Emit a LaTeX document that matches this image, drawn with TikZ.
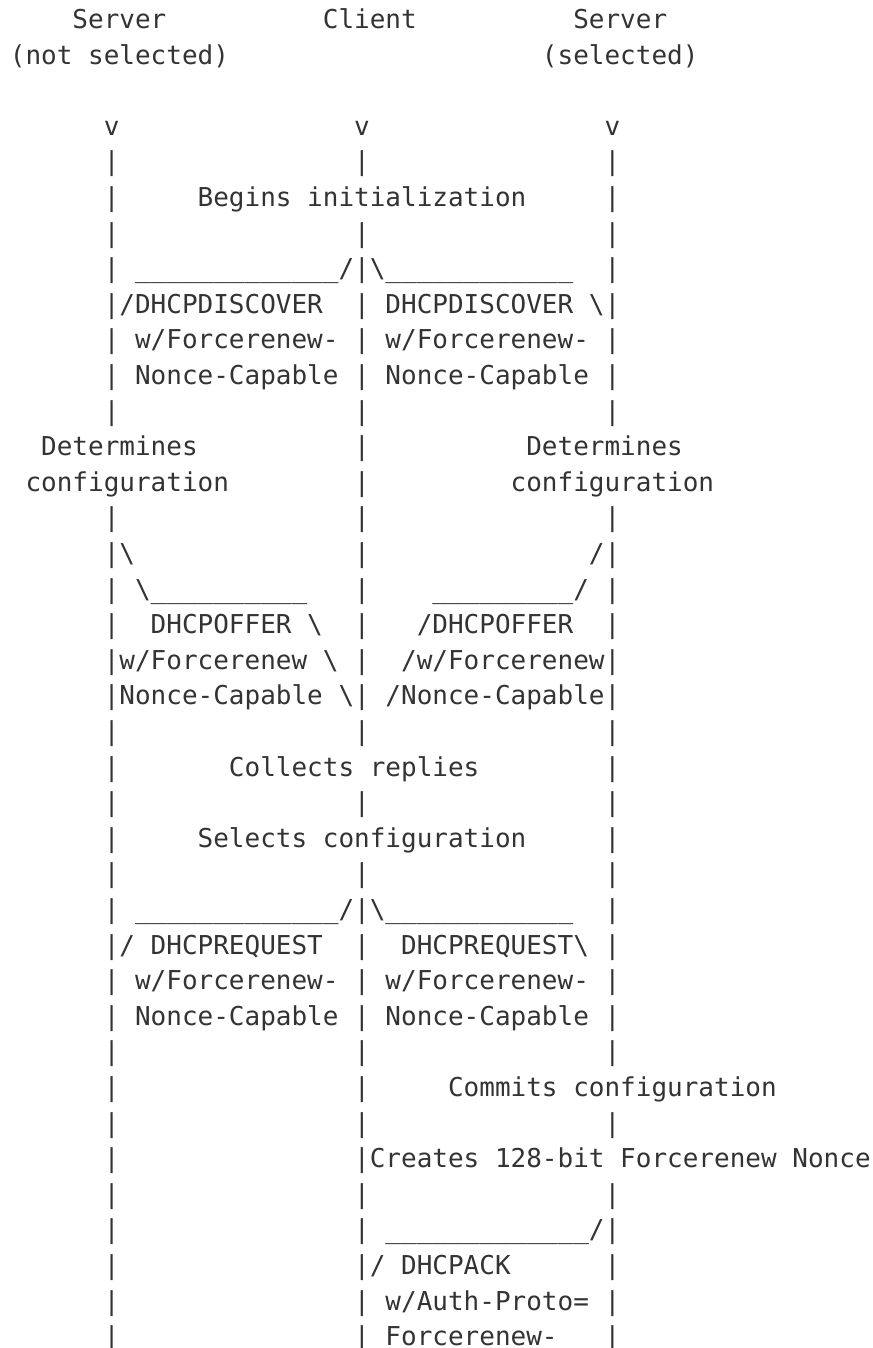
\documentclass[tikz,border=0pt]{standalone}
\usepackage{fontspec}
\newfontfamily\asciifont{DejaVu Sans Mono}
\tikzset{ascii/.style={anchor=base west, inner sep=0pt, outer sep=0pt, text=black!80,
    font=\asciifont\fontsize{13pt}{15pt}\selectfont}}
% one character cell: x = column, y = text row
\newcommand{\bs}{\textbackslash}

\begin{document}
\begin{tikzpicture}[x=7.825pt, y=-17.8pt]
  \useasboundingbox (0pt,0pt) rectangle (436pt,-674pt);
  \begin{scope}[shift={(-2.9pt,3.55pt)}]
  % parties
  \node[ascii] (srvn) at (5,1) {Server};
  \node[ascii] (cli) at (21,1) {Client};
  \node[ascii] (srvs) at (37,1) {Server};
  \node[ascii] (srvn2) at (1,2) {(not selected)};
  \node[ascii] (srvs2) at (35,2) {(selected)};
  \node[ascii] (vn) at (7,4) {v};
  \node[ascii] (vc) at (23,4) {v};
  \node[ascii] (vs) at (39,4) {v};
  % lifelines
  \foreach \r in {5,...,12,15,16,...,38}
    \node[ascii] (ln\r) at (7,\r) {\textbar};
  \foreach \r in {5,7,8,...,21,23,25,26,...,38}
    \node[ascii] (lc\r) at (23,\r) {\textbar};
  \foreach \r in {5,...,12,15,16,...,30,32,34,35,...,38}
    \node[ascii] (ls\r) at (39,\r) {\textbar};

  \node[ascii] (init) at (13,6) {Begins initialization};
  % DHCPDISCOVER to both servers
  \node[ascii] (dscn) at (9,8) {\_\_\_\_\_\_\_\_\_\_\_\_\_/};
  \node[ascii] (dscs) at (24,8) {\bs\_\_\_\_\_\_\_\_\_\_\_\_};
  \node[ascii] (dscn1) at (8,9) {/DHCPDISCOVER};
  \node[ascii] (dscs1) at (25,9) {DHCPDISCOVER \bs};
  \node[ascii] (dscn2) at (9,10) {w/Forcerenew-};
  \node[ascii] (dscs2) at (25,10) {w/Forcerenew-};
  \node[ascii] (dscn3) at (9,11) {Nonce-Capable};
  \node[ascii] (dscs3) at (25,11) {Nonce-Capable};
  \node[ascii] (detn) at (3,13) {Determines};
  \node[ascii] (dets) at (34,13) {Determines};
  \node[ascii] (detn2) at (2,14) {configuration};
  \node[ascii] (dets2) at (33,14) {configuration};
  % DHCPOFFER back to the client
  \node[ascii] (offn) at (8,16) {\bs};
  \node[ascii] (offs) at (38,16) {/};
  \node[ascii] (offn1) at (9,17) {\bs\_\_\_\_\_\_\_\_\_\_};
  \node[ascii] (offs1) at (28,17) {\_\_\_\_\_\_\_\_\_/};
  \node[ascii] (offn2) at (10,18) {DHCPOFFER \bs};
  \node[ascii] (offs2) at (27,18) {/DHCPOFFER};
  \node[ascii] (offn3) at (8,19) {w/Forcerenew \bs};
  \node[ascii] (offs3) at (26,19) {/w/Forcerenew};
  \node[ascii] (offn4) at (8,20) {Nonce-Capable \bs};
  \node[ascii] (offs4) at (25,20) {/Nonce-Capable};
  \node[ascii] (coll) at (15,22) {Collects replies};
  \node[ascii] (sel) at (13,24) {Selects configuration};
  % DHCPREQUEST to both servers
  \node[ascii] (reqn) at (9,26) {\_\_\_\_\_\_\_\_\_\_\_\_\_/};
  \node[ascii] (reqs) at (24,26) {\bs\_\_\_\_\_\_\_\_\_\_\_\_};
  \node[ascii] (reqn1) at (8,27) {/ DHCPREQUEST};
  \node[ascii] (reqs1) at (26,27) {DHCPREQUEST\bs};
  \node[ascii] (reqn2) at (9,28) {w/Forcerenew-};
  \node[ascii] (reqs2) at (25,28) {w/Forcerenew-};
  \node[ascii] (reqn3) at (9,29) {Nonce-Capable};
  \node[ascii] (reqs3) at (25,29) {Nonce-Capable};
  \node[ascii] (commit) at (29,31) {Commits configuration};
  \node[ascii] (nonce) at (24,33) {Creates 128-bit Forcerenew Nonce};
  % DHCPACK from the selected server
  \node[ascii] (ack) at (25,35) {\_\_\_\_\_\_\_\_\_\_\_\_\_/};
  \node[ascii] (ack1) at (24,36) {/ DHCPACK};
  \node[ascii] (ack2) at (25,37) {w/Auth-Proto=};
  \node[ascii] (ack3) at (25,38) {Forcerenew-};
  \end{scope}
\end{tikzpicture}
\end{document}
